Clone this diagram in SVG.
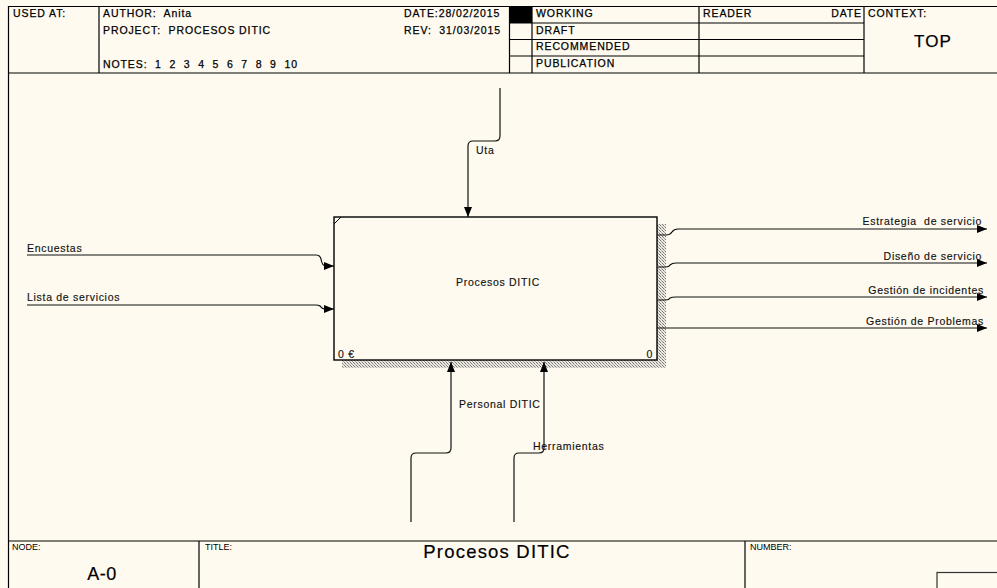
<svg xmlns="http://www.w3.org/2000/svg" width="997" height="588" viewBox="0 0 997 588" xml:space="preserve">
<style>
.f{stroke:#000;stroke-width:1.2;fill:none}
.c{stroke:#111;stroke-width:1.2;fill:none}
.t{font-family:"Liberation Sans",Arial,sans-serif;font-size:10.5px;letter-spacing:0.9px;fill:#000;stroke:#000;stroke-width:0.25px;white-space:pre}
.l{font-family:"Liberation Sans",Arial,sans-serif;font-size:10.5px;letter-spacing:0.7px;fill:#111;stroke:#111;stroke-width:0.15px;white-space:pre}
.s{font-family:"Liberation Sans",Arial,sans-serif;font-size:9px;fill:#000}
</style>
<defs>
<pattern id="hatch" width="3" height="3" patternUnits="userSpaceOnUse">
<rect width="3" height="3" fill="#ece8de"/>
<rect x="0" y="0" width="1" height="1" fill="#777"/>
<rect x="1" y="1" width="1" height="1" fill="#aaa"/>
<rect x="2" y="2" width="1" height="1" fill="#777"/>
</pattern>
<marker id="ah" viewBox="0 0 10 8" refX="10" refY="4" markerWidth="10" markerHeight="8" markerUnits="userSpaceOnUse" orient="auto">
<path d="M0,0 L10,4 L0,8 Z" fill="#000"/>
</marker>
</defs>
<rect width="997" height="588" fill="#fffaf0"/>
<g id="frame">
<line class="f" x1="8.5" y1="6" x2="8.5" y2="588"/>
<line class="f" x1="8" y1="6.5" x2="997" y2="6.5"/>
<line class="f" x1="8" y1="73" x2="997" y2="73"/>
<line class="f" x1="99" y1="6" x2="99" y2="73"/>
<line class="f" x1="509.5" y1="6" x2="509.5" y2="73"/>
<rect x="509" y="6" width="23" height="17" fill="#000"/>
<line class="f" x1="532" y1="6" x2="532" y2="73"/>
<line class="f" x1="509" y1="23" x2="864" y2="23"/>
<line class="f" x1="509" y1="39.5" x2="864" y2="39.5"/>
<line class="f" x1="509" y1="56" x2="864" y2="56"/>
<line class="f" x1="699" y1="6" x2="699" y2="73"/>
<line class="f" x1="864" y1="6" x2="864" y2="73"/>
<text class="t" x="13" y="17">USED AT:</text>
<text class="t" x="103" y="17">AUTHOR:  Anita</text>
<text class="t" x="103" y="34">PROJECT:  PROCESOS DITIC</text>
<text class="t" x="103" y="68">NOTES:  1  2  3  4  5  6  7  8  9  10</text>
<text class="t" x="404" y="17">DATE:28/02/2015</text>
<text class="t" x="404" y="34">REV:  31/03/2015</text>
<text class="t" x="536" y="17">WORKING</text>
<text class="t" x="536" y="34">DRAFT</text>
<text class="t" x="536" y="50">RECOMMENDED</text>
<text class="t" x="536" y="67">PUBLICATION</text>
<text class="t" x="703" y="17">READER</text>
<text class="t" x="862" y="17" text-anchor="end">DATE</text>
<text class="t" x="868" y="17">CONTEXT:</text>
<text class="t" x="933" y="47" text-anchor="middle" style="font-size:17px;letter-spacing:1.2px">TOP</text>
<line class="f" x1="8" y1="541" x2="997" y2="541"/>
<line class="f" x1="199" y1="541" x2="199" y2="588"/>
<line class="f" x1="745" y1="541" x2="745" y2="588"/>
<rect x="937" y="572.5" width="62" height="18" fill="none" stroke="#333" stroke-width="1.2"/>
<text class="s" x="12" y="550">NODE:</text>
<text class="s" x="205" y="550">TITLE:</text>
<text class="s" x="750" y="550">NUMBER:</text>
<text class="t" x="102" y="580" text-anchor="middle" style="font-size:18px;letter-spacing:0.5px;stroke-width:0.2px">A-0</text>
<text class="t" x="497" y="558" text-anchor="middle" style="font-size:18.5px;letter-spacing:1.2px;stroke-width:0.2px">Procesos DITIC</text>
</g>
<g id="node-A0">
<rect x="657" y="224" width="9" height="144" fill="url(#hatch)"/>
<rect x="342" y="360" width="324" height="8" fill="url(#hatch)"/>
<rect x="334" y="217" width="323" height="143" fill="#fffaf0" stroke="#000" stroke-width="1.4"/>
<line x1="334" y1="224" x2="341" y2="217" stroke="#000" stroke-width="1"/>
<text class="l" x="498" y="286" text-anchor="middle">Procesos DITIC</text>
<text class="l" x="338" y="358">0 €</text>
<text class="l" x="653" y="358" text-anchor="end">0</text>
</g>
<g id="connectors">
<path class="c" d="M500,88 V136 Q500,141 495,141 H473 Q468,141 468,146 V217" marker-end="url(#ah)"/>
<path class="c" d="M27,255 H316 Q320,255 321,259 Q322,266 326,266 H334" marker-end="url(#ah)"/>
<path class="c" d="M27,305 H316 Q320,305 321,307 Q322,309 326,309 H334" marker-end="url(#ah)"/>
<path class="c" d="M658,235 H666 Q670,235 672,232 Q674,229 678,229 H987" marker-end="url(#ah)"/>
<path class="c" d="M658,267 H666 Q669,267 670,265 Q672,263 676,263 H987" marker-end="url(#ah)"/>
<path class="c" d="M658,300 H666 Q669,300 670,298 Q672,297 676,297 H987" marker-end="url(#ah)"/>
<path class="c" d="M657,328 H987" marker-end="url(#ah)"/>
<path class="c" d="M411,522 V458 Q411,453 416,453 H446 Q451,453 451,448 V362" marker-end="url(#ah)"/>
<path class="c" d="M514,522 V458 Q514,453 519,453 H539 Q544,453 544,448 V362" marker-end="url(#ah)"/>
<text class="l" x="476" y="154">Uta</text>
<text class="l" x="27" y="252">Encuestas</text>
<text class="l" x="27" y="301">Lista de servicios</text>
<text class="l" x="982" y="225" text-anchor="end">Estrategia  de servicio</text>
<text class="l" x="982" y="260" text-anchor="end">Diseño de servicio</text>
<text class="l" x="984" y="294" text-anchor="end">Gestión de incidentes</text>
<text class="l" x="984" y="325" text-anchor="end">Gestión de Problemas</text>
<text class="l" x="459" y="408">Personal DITIC</text>
<text class="l" x="533" y="450">Herramientas</text>
</g>
</svg>
